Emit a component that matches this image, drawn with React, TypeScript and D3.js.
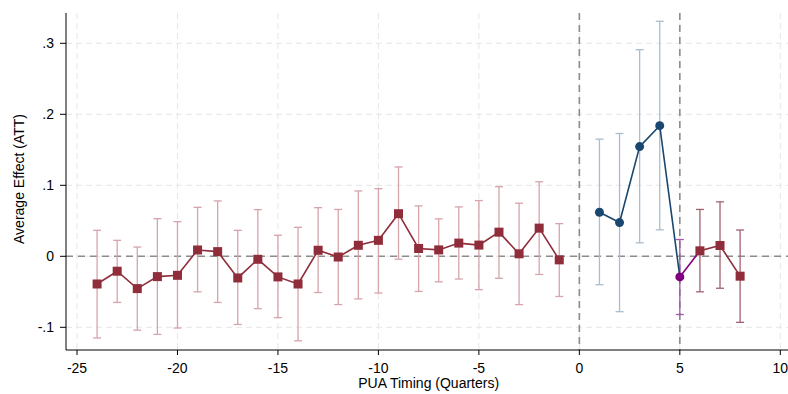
import React from "react";
import * as d3 from "d3";

const preT = [-24,-23,-22,-21,-20,-19,-18,-17,-16,-15,-14,-13,-12,-11,-10,-9,-8,-7,-6,-5,-4,-3,-2,-1];
const preEst = [-0.039,-0.021,-0.0455,-0.0286,-0.0268,0.0089,0.0066,-0.0305,-0.0042,-0.029,-0.039,0.0085,-0.001,0.0155,0.0225,0.060,0.011,0.009,0.0186,0.0158,0.034,0.0035,0.0397,-0.005];
const preHi = [0.0366,0.0225,0.013,0.053,0.0488,0.069,0.078,0.0366,0.0657,0.0296,0.0408,0.0685,0.066,0.092,0.0953,0.1258,0.071,0.0527,0.0696,0.0785,0.098,0.0748,0.105,0.046];
const preLo = [-0.115,-0.065,-0.104,-0.11,-0.101,-0.050,-0.065,-0.096,-0.0737,-0.0864,-0.119,-0.051,-0.068,-0.060,-0.0517,-0.004,-0.0495,-0.036,-0.032,-0.047,-0.031,-0.068,-0.0256,-0.0566];

const blueT = [1,2,3,4];
const blueEst = [0.062,0.0475,0.1545,0.184];
const blueHi = [0.165,0.173,0.291,0.331];
const blueLo = [-0.040,-0.078,0.019,0.0373];

const purpleT = [5];
const purpleEst = [-0.029];
const purpleHi = [0.0236];
const purpleLo = [-0.082];

const postT = [6,7,8];
const postEst = [0.0077,0.0152,-0.028];
const postHi = [0.066,0.0767,0.037];
const postLo = [-0.050,-0.045,-0.093];

const xTicks = [-25,-20,-15,-10,-5,0,5,10];
const yTicks = [-0.1,0,0.1,0.2,0.3];
const yTickLabels = ["-.1","0",".1",".2",".3"];
const vLines = [0,5];

const W = 788, H = 394;
const left = 66, right = 788, top = 13, bottom = 350;

export default function App() {
  const x = d3.scaleLinear().domain([-25, 10]).range([77, 780.3]);
  const y = d3.scaleLinear().domain([-0.1, 0.3]).range([327.3, 43.3]);
  const line = d3.line<[number, number]>().x(d => x(d[0])).y(d => y(d[1]));
  const font = "Liberation Sans, Arial, sans-serif";

  const cis = (ts: number[], hi: number[], lo: number[], color: string) =>
    ts.map((t, i) => (
      <g key={"ci" + t} stroke={color} strokeWidth={1.3} fill="none">
        <line x1={x(t)} x2={x(t)} y1={y(hi[i])} y2={y(lo[i])} />
        <line x1={x(t) - 4} x2={x(t) + 4} y1={y(hi[i])} y2={y(hi[i])} />
        <line x1={x(t) - 4} x2={x(t) + 4} y1={y(lo[i])} y2={y(lo[i])} />
      </g>
    ));

  const red = "#8f2d3a";
  const blue = "#1a476f";
  const purple = "#800080";

  return (
    <svg width={W} height={H} style={{ position: "absolute", left: 0, top: 0 }} fontFamily={font}>
      <rect x={0} y={0} width={W} height={H} fill="#fff" />
      {/* grid */}
      {xTicks.map(t => (
        <line key={"gx" + t} x1={x(t)} x2={x(t)} y1={top} y2={bottom} stroke="#e6e6e6" strokeWidth={1} strokeDasharray="6,4" />
      ))}
      {yTicks.map(t => (
        <line key={"gy" + t} x1={left} x2={right} y1={y(t)} y2={y(t)} stroke="#e6e6e6" strokeWidth={1} strokeDasharray="6,4" />
      ))}
      {/* reference lines */}
      <line x1={left} x2={right} y1={y(0)} y2={y(0)} stroke="#8c8c8c" strokeWidth={1.6} strokeDasharray="7,5" />
      {vLines.map(v => (
        <line key={"v" + v} x1={x(v)} x2={x(v)} y1={top} y2={bottom} stroke="#8c8c8c" strokeWidth={1.6} strokeDasharray="7,5" />
      ))}
      {/* CIs */}
      {cis(preT, preHi, preLo, "#d6a4ab")}
      {cis(blueT, blueHi, blueLo, "#a9bdcf")}
      {cis(purpleT, purpleHi, purpleLo, "#a05aa8")}
      {cis(postT, postHi, postLo, "#a3606f")}
      {/* lines */}
      <path d={line(preT.map((t, i) => [t, preEst[i]]) as any) || ""} fill="none" stroke={red} strokeWidth={1.6} />
      <path d={line([...blueT.map((t, i) => [t, blueEst[i]]), [purpleT[0], purpleEst[0]]] as any) || ""} fill="none" stroke={blue} strokeWidth={1.6} />
      <path d={line([[purpleT[0], purpleEst[0]], [postT[0], postEst[0]]] as any) || ""} fill="none" stroke={purple} strokeWidth={1.6} />
      <path d={line(postT.map((t, i) => [t, postEst[i]]) as any) || ""} fill="none" stroke={red} strokeWidth={1.6} />
      {/* markers */}
      {preT.map((t, i) => (
        <rect key={"m" + t} x={x(t) - 4.5} y={y(preEst[i]) - 4.5} width={9} height={9} fill={red} />
      ))}
      {postT.map((t, i) => (
        <rect key={"pm" + t} x={x(t) - 4.5} y={y(postEst[i]) - 4.5} width={9} height={9} fill={red} />
      ))}
      {blueT.map((t, i) => (
        <circle key={"b" + t} cx={x(t)} cy={y(blueEst[i])} r={4.5} fill={blue} />
      ))}
      {purpleT.map((t, i) => (
        <circle key={"p" + t} cx={x(t)} cy={y(purpleEst[i])} r={4.5} fill={purple} />
      ))}
      {/* axes */}
      <line x1={left} x2={left} y1={top} y2={bottom} stroke="#000" strokeWidth={1} />
      <line x1={left} x2={right} y1={bottom} y2={bottom} stroke="#000" strokeWidth={1} />
      {yTicks.map((t, i) => (
        <g key={"yt" + t}>
          <line x1={left - 6} x2={left} y1={y(t)} y2={y(t)} stroke="#000" />
          <text x={54} y={y(t)} dy="0.35em" textAnchor="end" fontSize={14}>{yTickLabels[i]}</text>
        </g>
      ))}
      {xTicks.map(t => (
        <g key={"xt" + t}>
          <line x1={x(t)} x2={x(t)} y1={bottom} y2={bottom + 5} stroke="#000" />
          <text x={x(t)} y={373} textAnchor="middle" fontSize={14}>{t}</text>
        </g>
      ))}
      <text x={428.7} y={388} textAnchor="middle" fontSize={14}>PUA Timing (Quarters)</text>
      <text transform={`translate(23.5, 179) rotate(-90)`} textAnchor="middle" fontSize={14}>Average Effect (ATT)</text>
    </svg>
  );
}
